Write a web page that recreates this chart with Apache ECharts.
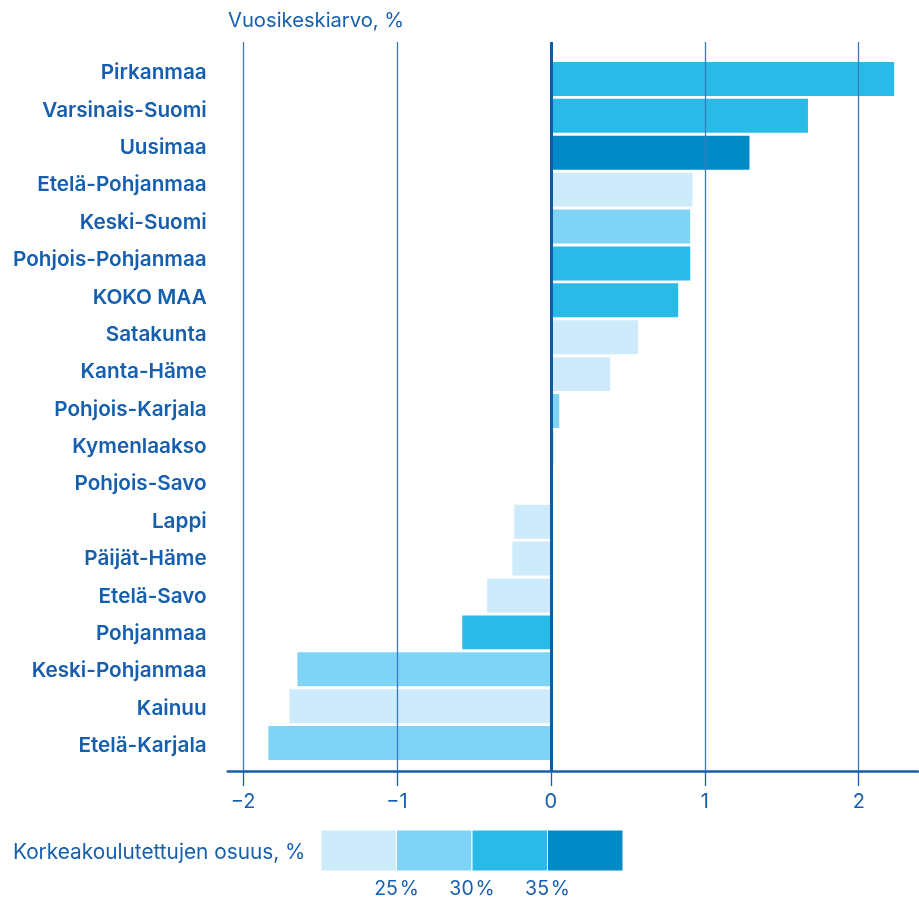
<!DOCTYPE html>
<html><head><meta charset="utf-8">
<script src="https://cdn.jsdelivr.net/npm/echarts@6/dist/echarts.min.js"></script>
<style>html,body{margin:0;padding:0;background:#fff}#c{width:919px;height:899px}</style>
</head><body><div id="c"></div>
<script>
const categories = ["Pirkanmaa","Varsinais-Suomi","Uusimaa","Etelä-Pohjanmaa","Keski-Suomi","Pohjois-Pohjanmaa","KOKO MAA","Satakunta","Kanta-Häme","Pohjois-Karjala","Kymenlaakso","Pohjois-Savo","Lappi","Päijät-Häme","Etelä-Savo","Pohjanmaa","Keski-Pohjanmaa","Kainuu","Etelä-Karjala"];
const values = [2.23,1.67,1.29,0.92,0.905,0.905,0.827,0.567,0.385,0.054,0.02,0,-0.238,-0.251,-0.414,-0.576,-1.647,-1.699,-1.836];
// education share class: 0 <25%, 1 25–30%, 2 30–35%, 3 >35%
const shareClass = [2,2,3,0,1,2,2,0,0,1,0,0,0,0,0,2,1,0,1];
const classColors = ["#cdebfb","#7fd4f6","#2abae7","#008bc6"];
const legendTicks = ["25\u200A%","30\u200A%","35\u200A%"];
const xTicks = [-2,-1,0,1,2];
const xMin = -2.1, xMax = 2.385;

const blue = "#155fae";
const font = "Inter";
const chart = echarts.init(document.getElementById('c'));
const GL = 227.7, GW = 690.3;

const legendGraphics = [];
const bx0 = 321, bw = 75.5, by = 830, bh = 41;
classColors.forEach((c,i)=>{
  legendGraphics.push({type:'rect',shape:{x:bx0+i*bw,y:by,width:bw,height:bh},style:{fill:c,stroke:'#fff',lineWidth:1}});
});
legendTicks.forEach((t,i)=>{
  legendGraphics.push({type:'text',x:bx0+(i+1)*bw,y:889,style:{text:t,fill:blue,font:'19.5px '+font,textAlign:'center',textVerticalAlign:'middle'}});
});
legendGraphics.push({type:'text',x:13,y:853,style:{text:'Korkeakoulutettujen osuus, %',fill:blue,font:'20.8px '+font,textAlign:'left',textVerticalAlign:'middle'}});
legendGraphics.push({type:'text',x:228,y:21,style:{text:'Vuosikeskiarvo, %',fill:blue,font:'20.2px '+font,textAlign:'left',textVerticalAlign:'middle'}});

chart.setOption({
  animation:false,
  grid:[
    {left:GL,width:GW,top:42,height:729},
    {left:GL,width:GW,top:60.5,height:701},
    {left:GL,width:GW,top:54.3,height:710.3}
  ],
  xAxis:[
    {type:'value',gridIndex:0,min:xMin,max:xMax,
     axisLine:{show:true,onZero:false,lineStyle:{color:blue,width:2.5}},
     axisTick:{show:true,customValues:xTicks,length:15,inside:false,lineStyle:{color:blue,width:1.3}},
     axisLabel:{show:true,customValues:xTicks,margin:21,color:blue,fontSize:20,fontFamily:font,
       formatter:v=>v<0?'\u2212'+Math.abs(v):String(v)},
     splitLine:{show:false}},
    {type:'value',gridIndex:1,min:xMin,max:xMax,show:false,splitLine:{show:false}},
    {type:'value',gridIndex:2,min:xMin,max:xMax,show:false,splitLine:{show:false}}
  ],
  yAxis:[
    {type:'category',gridIndex:0,data:['a'],show:false},
    {type:'category',gridIndex:1,data:categories,inverse:true,show:false},
    {type:'category',gridIndex:2,data:categories,inverse:true,
     axisLine:{show:false},axisTick:{show:false},splitLine:{show:false},
     axisLabel:{color:blue,fontSize:20.7,fontWeight:600,fontFamily:font,margin:21}}
  ],
  series:[
    {type:'bar',xAxisIndex:0,yAxisIndex:0,data:[],silent:true,
     markLine:{symbol:'none',silent:true,label:{show:false},
       data:xTicks.map(v=>({xAxis:v,lineStyle:{color:v===0?'#0b5dad':'#3a7bc0',width:v===0?3:1.3,type:'solid'}}))}},
    {type:'bar',xAxisIndex:1,yAxisIndex:1,barCategoryGap:'8%',z:3,
     data:values.map((v,i)=>({value:v,itemStyle:{color:classColors[shareClass[i]]}}))}
  ],
  graphic:legendGraphics
});
</script></body></html>
